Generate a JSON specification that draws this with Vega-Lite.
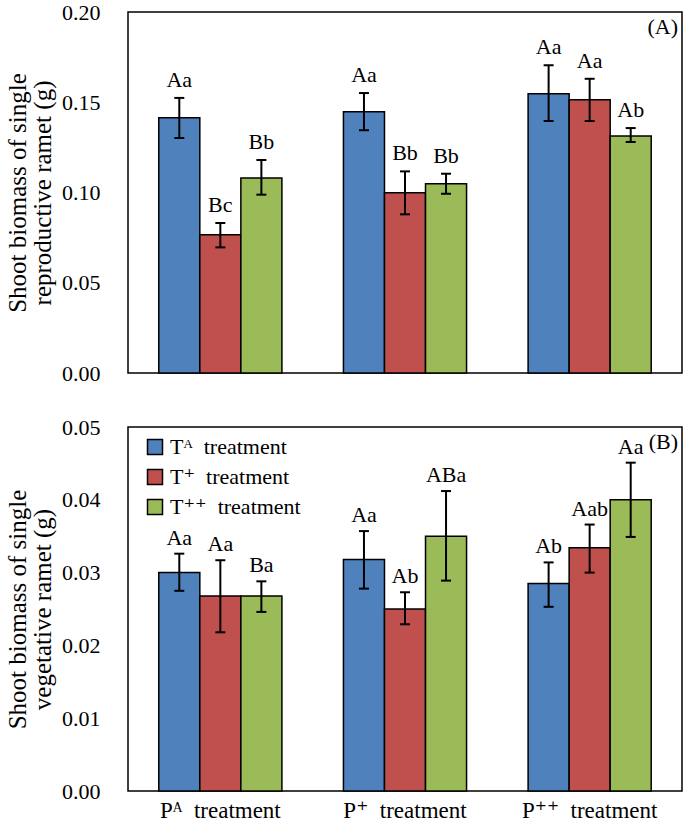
{
  "$schema": "https://vega.github.io/schema/vega-lite/v6.json",
  "padding": {"left": 4, "top": 0, "right": 0, "bottom": 0},
  "spacing": 30,
  "config": {
    "font": "Liberation Serif, DejaVu Serif",
    "view": {"stroke": "black", "strokeWidth": 1.5},
    "axis": {"labelFont": "Liberation Serif, DejaVu Serif", "titleFont": "Liberation Serif, DejaVu Serif", "labelColor": "black", "titleColor": "black", "labelFontSize": 22, "titleFontSize": 25, "titleFontWeight": "normal", "domain": false, "ticks": false, "grid": false},
    "legend": {"labelFont": "Liberation Serif, DejaVu Serif", "labelFontSize": 22, "labelColor": "black", "symbolType": "square", "symbolSize": 225, "symbolStrokeColor": "black", "symbolStrokeWidth": 1.5, "symbolOpacity": 1, "rowPadding": 8, "labelOffset": 4, "padding": 0},
    "title": {"font": "Liberation Serif, DejaVu Serif", "fontSize": 22, "fontWeight": "normal", "color": "black"},
    "text": {"font": "Liberation Serif, DejaVu Serif"}
  },
  "resolve": {"scale": {"color": "independent"}, "legend": {"color": "independent"}},
  "datasets": {
    "A": [
      {"P": "Pᴬ\u00a0\u00a0treatment", "T": "Tᴬ\u00a0\u00a0treatment", "mean": 0.1414, "lo": 0.1302, "hi": 0.1524, "label": "Aa"},
      {"P": "Pᴬ\u00a0\u00a0treatment", "T": "T⁺\u00a0\u00a0treatment", "mean": 0.0766, "lo": 0.0696, "hi": 0.0831, "label": "Bc"},
      {"P": "Pᴬ\u00a0\u00a0treatment", "T": "T⁺⁺\u00a0\u00a0treatment", "mean": 0.1080, "lo": 0.0988, "hi": 0.1180, "label": "Bb"},
      {"P": "P⁺\u00a0\u00a0treatment", "T": "Tᴬ\u00a0\u00a0treatment", "mean": 0.1448, "lo": 0.1345, "hi": 0.1551, "label": "Aa"},
      {"P": "P⁺\u00a0\u00a0treatment", "T": "T⁺\u00a0\u00a0treatment", "mean": 0.0999, "lo": 0.0879, "hi": 0.1117, "label": "Bb"},
      {"P": "P⁺\u00a0\u00a0treatment", "T": "T⁺⁺\u00a0\u00a0treatment", "mean": 0.1049, "lo": 0.0993, "hi": 0.1104, "label": "Bb"},
      {"P": "P⁺⁺\u00a0\u00a0treatment", "T": "Tᴬ\u00a0\u00a0treatment", "mean": 0.1547, "lo": 0.1396, "hi": 0.1705, "label": "Aa"},
      {"P": "P⁺⁺\u00a0\u00a0treatment", "T": "T⁺\u00a0\u00a0treatment", "mean": 0.1514, "lo": 0.1396, "hi": 0.1630, "label": "Aa"},
      {"P": "P⁺⁺\u00a0\u00a0treatment", "T": "T⁺⁺\u00a0\u00a0treatment", "mean": 0.1313, "lo": 0.1280, "hi": 0.1357, "label": "Ab"}
    ],
    "B": [
      {"P": "Pᴬ\u00a0\u00a0treatment", "T": "Tᴬ\u00a0\u00a0treatment", "mean": 0.0300, "lo": 0.0275, "hi": 0.0326, "label": "Aa"},
      {"P": "Pᴬ\u00a0\u00a0treatment", "T": "T⁺\u00a0\u00a0treatment", "mean": 0.0268, "lo": 0.0218, "hi": 0.0317, "label": "Aa"},
      {"P": "Pᴬ\u00a0\u00a0treatment", "T": "T⁺⁺\u00a0\u00a0treatment", "mean": 0.0268, "lo": 0.0246, "hi": 0.0288, "label": "Ba"},
      {"P": "P⁺\u00a0\u00a0treatment", "T": "Tᴬ\u00a0\u00a0treatment", "mean": 0.0318, "lo": 0.0278, "hi": 0.0357, "label": "Aa"},
      {"P": "P⁺\u00a0\u00a0treatment", "T": "T⁺\u00a0\u00a0treatment", "mean": 0.0250, "lo": 0.0229, "hi": 0.0273, "label": "Ab"},
      {"P": "P⁺\u00a0\u00a0treatment", "T": "T⁺⁺\u00a0\u00a0treatment", "mean": 0.0350, "lo": 0.0289, "hi": 0.0412, "label": "ABa"},
      {"P": "P⁺⁺\u00a0\u00a0treatment", "T": "Tᴬ\u00a0\u00a0treatment", "mean": 0.0285, "lo": 0.0253, "hi": 0.0314, "label": "Ab"},
      {"P": "P⁺⁺\u00a0\u00a0treatment", "T": "T⁺\u00a0\u00a0treatment", "mean": 0.0334, "lo": 0.0300, "hi": 0.0366, "label": "Aab"},
      {"P": "P⁺⁺\u00a0\u00a0treatment", "T": "T⁺⁺\u00a0\u00a0treatment", "mean": 0.0400, "lo": 0.0349, "hi": 0.0451, "label": "Aa"}
    ]
  },
  "vconcat": [
    {
      "width": 554,
      "height": 361,
      "data": {"name": "A"},
      "title": {"text": "(A)", "anchor": "end", "offset": -38, "dx": -4},
      "encoding": {
        "x": {"field": "P", "type": "nominal", "sort": ["Pᴬ\u00a0\u00a0treatment", "P⁺\u00a0\u00a0treatment", "P⁺⁺\u00a0\u00a0treatment"], "scale": {"paddingInner": 0.3333, "paddingOuter": 0.1667}, "axis": null},
        "xOffset": {"field": "T", "type": "nominal", "sort": ["Tᴬ\u00a0\u00a0treatment", "T⁺\u00a0\u00a0treatment", "T⁺⁺\u00a0\u00a0treatment"], "scale": {"paddingInner": 0, "paddingOuter": 0}}
      },
      "layer": [
        {
          "mark": {"type": "bar", "stroke": "black", "strokeWidth": 1.5},
          "encoding": {
            "y": {"field": "mean", "type": "quantitative", "scale": {"domain": [0, 0.2], "nice": false}, "axis": {"values": [0, 0.05, 0.1, 0.15, 0.2], "format": ".2f", "labelPadding": 28, "titlePadding": 6, "titleLineHeight": 25, "title": ["Shoot biomass of single", "reproductive ramet (g)"]}},
            "color": {"field": "T", "type": "nominal", "scale": {"domain": ["Tᴬ\u00a0\u00a0treatment", "T⁺\u00a0\u00a0treatment", "T⁺⁺\u00a0\u00a0treatment"], "range": ["#4F81BD", "#C0504D", "#9BBB59"]}, "legend": null}
          }
        },
        {"mark": {"type": "rule", "strokeWidth": 2, "color": "black"}, "encoding": {"y": {"field": "lo", "type": "quantitative"}, "y2": {"field": "hi"}}},
        {"mark": {"type": "tick", "thickness": 2, "size": 10, "color": "black", "orient": "horizontal", "opacity": 1}, "encoding": {"y": {"field": "lo", "type": "quantitative"}}},
        {"mark": {"type": "tick", "thickness": 2, "size": 10, "color": "black", "orient": "horizontal", "opacity": 1}, "encoding": {"y": {"field": "hi", "type": "quantitative"}}},
        {"mark": {"type": "text", "baseline": "alphabetic", "dy": -11, "fontSize": 22, "color": "black"}, "encoding": {"y": {"field": "hi", "type": "quantitative"}, "text": {"field": "label"}}}
      ]
    },
    {
      "width": 554,
      "height": 364,
      "data": {"name": "B"},
      "title": {"text": "(B)", "anchor": "end", "offset": -38, "dx": -4},
      "encoding": {
        "x": {"field": "P", "type": "nominal", "sort": ["Pᴬ\u00a0\u00a0treatment", "P⁺\u00a0\u00a0treatment", "P⁺⁺\u00a0\u00a0treatment"], "scale": {"paddingInner": 0.3333, "paddingOuter": 0.1667}, "axis": {"title": null, "labelAngle": 0, "labelPadding": 8, "labelFontSize": 23}},
        "xOffset": {"field": "T", "type": "nominal", "sort": ["Tᴬ\u00a0\u00a0treatment", "T⁺\u00a0\u00a0treatment", "T⁺⁺\u00a0\u00a0treatment"], "scale": {"paddingInner": 0, "paddingOuter": 0}}
      },
      "layer": [
        {
          "mark": {"type": "bar", "stroke": "black", "strokeWidth": 1.5},
          "encoding": {
            "y": {"field": "mean", "type": "quantitative", "scale": {"domain": [0, 0.05], "nice": false}, "axis": {"values": [0, 0.01, 0.02, 0.03, 0.04, 0.05], "format": ".2f", "labelPadding": 28, "titlePadding": 6, "titleLineHeight": 25, "title": ["Shoot biomass of single", "vegetative ramet (g)"]}},
            "color": {"field": "T", "type": "nominal", "scale": {"domain": ["Tᴬ\u00a0\u00a0treatment", "T⁺\u00a0\u00a0treatment", "T⁺⁺\u00a0\u00a0treatment"], "range": ["#4F81BD", "#C0504D", "#9BBB59"]}, "legend": {"title": null, "orient": "none", "legendX": 16, "legendY": 9}}
          }
        },
        {"mark": {"type": "rule", "strokeWidth": 2, "color": "black"}, "encoding": {"y": {"field": "lo", "type": "quantitative"}, "y2": {"field": "hi"}}},
        {"mark": {"type": "tick", "thickness": 2, "size": 10, "color": "black", "orient": "horizontal", "opacity": 1}, "encoding": {"y": {"field": "lo", "type": "quantitative"}}},
        {"mark": {"type": "tick", "thickness": 2, "size": 10, "color": "black", "orient": "horizontal", "opacity": 1}, "encoding": {"y": {"field": "hi", "type": "quantitative"}}},
        {"mark": {"type": "text", "baseline": "alphabetic", "dy": -9, "fontSize": 22, "color": "black"}, "encoding": {"y": {"field": "hi", "type": "quantitative"}, "text": {"field": "label"}}}
      ]
    }
  ]
}
